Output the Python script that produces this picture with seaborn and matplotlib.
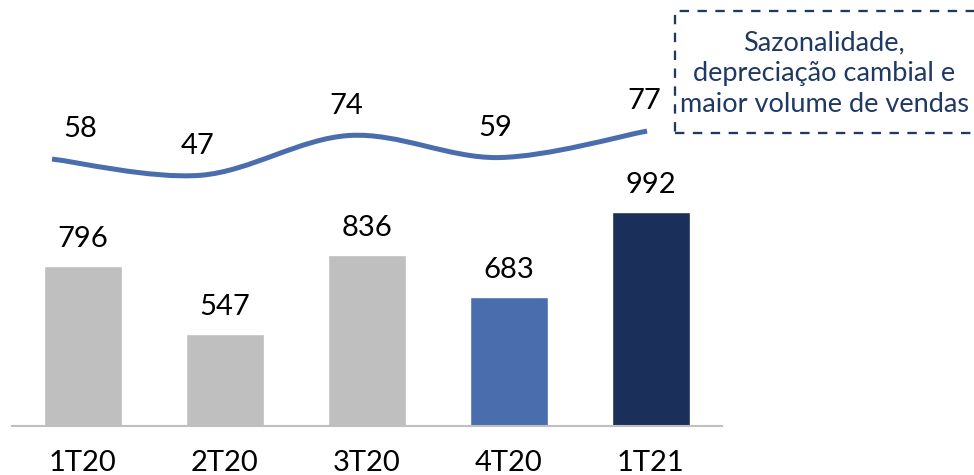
import numpy as np
import pandas as pd
import matplotlib
matplotlib.use("Agg")
import matplotlib.pyplot as plt
from matplotlib.path import Path
from matplotlib.patches import PathPatch, Rectangle
import seaborn as sns

# Quarterly figures
quarters = ["1T20", "2T20", "3T20", "4T20", "1T21"]
bar_values = [796, 547, 836, 683, 992]
line_values = [58, 47, 74, 59, 77]
bar_colors = ["#BFBFBF", "#BFBFBF", "#BFBFBF", "#4A6DAD", "#1B2F5B"]
note_text = "Sazonalidade,\ndepreciação cambial e\nmaior volume de vendas"

sns.set_theme(style="white")
plt.rcParams["font.family"] = ["Lato", "DejaVu Sans"]

W, H = 974, 475
fig = plt.figure(figsize=(W / 100, H / 100), dpi=100)

# Plot area in pixels: left, right, baseline
left_px, right_px, base_px = 12, 722, 426
rect = [left_px / W, (H - base_px) / H, (right_px - left_px) / W, base_px / H]

ax = fig.add_axes(rect)
df = pd.DataFrame({"quarter": quarters, "value": bar_values})
sns.barplot(data=df, x="quarter", y="value", hue="quarter",
            palette=dict(zip(quarters, bar_colors)), width=0.556,
            legend=False, ax=ax, saturation=1)
ax.set_xlim(-0.5, 4.5)
ax.set_ylim(214, 1760)
ax.set_xlabel("")
ax.set_ylabel("")
ax.set_yticks([])
ax.tick_params(axis="x", length=0, pad=17, labelsize=21, labelcolor="black")
for s in ["top", "right", "left"]:
    ax.spines[s].set_visible(False)
ax.spines["bottom"].set_color("#BFBFBF")
ax.spines["bottom"].set_linewidth(1.5)
ax.patch.set_alpha(0)

for i, v in enumerate(bar_values):
    ax.annotate(f"{v}", (i, v), xytext=(0, 10), textcoords="offset points",
                ha="center", va="bottom", fontsize=21, color="black")

# Secondary axes for the smoothed line
ax2 = fig.add_axes(rect)
ax2.set_xlim(-0.269, 4.504)
ax2.set_ylim(-123.1, 165.9)
ax2.axis("off")
ax2.patch.set_alpha(0)

xs = np.arange(len(line_values), dtype=float)
ys = np.array(line_values, dtype=float)
pts = np.column_stack([xs, ys])
ext = np.vstack([pts[0], pts, pts[-1]])
verts = [tuple(pts[0])]
codes = [Path.MOVETO]
for i in range(len(pts) - 1):
    p0, p1, p2, p3 = ext[i], ext[i + 1], ext[i + 2], ext[i + 3]
    c1 = p1 + (p2 - p0) / 6.0
    c2 = p2 - (p3 - p1) / 6.0
    verts += [tuple(c1), tuple(c2), tuple(p2)]
    codes += [Path.CURVE4] * 3
ax2.add_patch(PathPatch(Path(verts, codes), facecolor="none",
                        edgecolor="#4A6DAD", linewidth=3.6, capstyle="butt"))

for i, v in enumerate(line_values):
    dx = 20 if i == 0 else -2
    ax2.annotate(f"{v}", (xs[i], v), xytext=(dx, 12), textcoords="offset points",
                 ha="center", va="bottom", fontsize=21, color="black")

# Dashed callout box (runs past the right edge)
bx0, bx1, by0, by1 = 675, 980, 11, 133
fig.patches.append(Rectangle((bx0 / W, (H - by1) / H), (bx1 - bx0) / W, (by1 - by0) / H,
                             transform=fig.transFigure, fill=False,
                             edgecolor="#203864", linewidth=1.65,
                             linestyle=(0, (4.1, 3.7))))
fig.text(824 / W, (H - 74) / H, note_text, ha="center", va="center",
         fontsize=19.5, color="#1F3864", linespacing=1.3)

fig.savefig("out.png", dpi=100)
